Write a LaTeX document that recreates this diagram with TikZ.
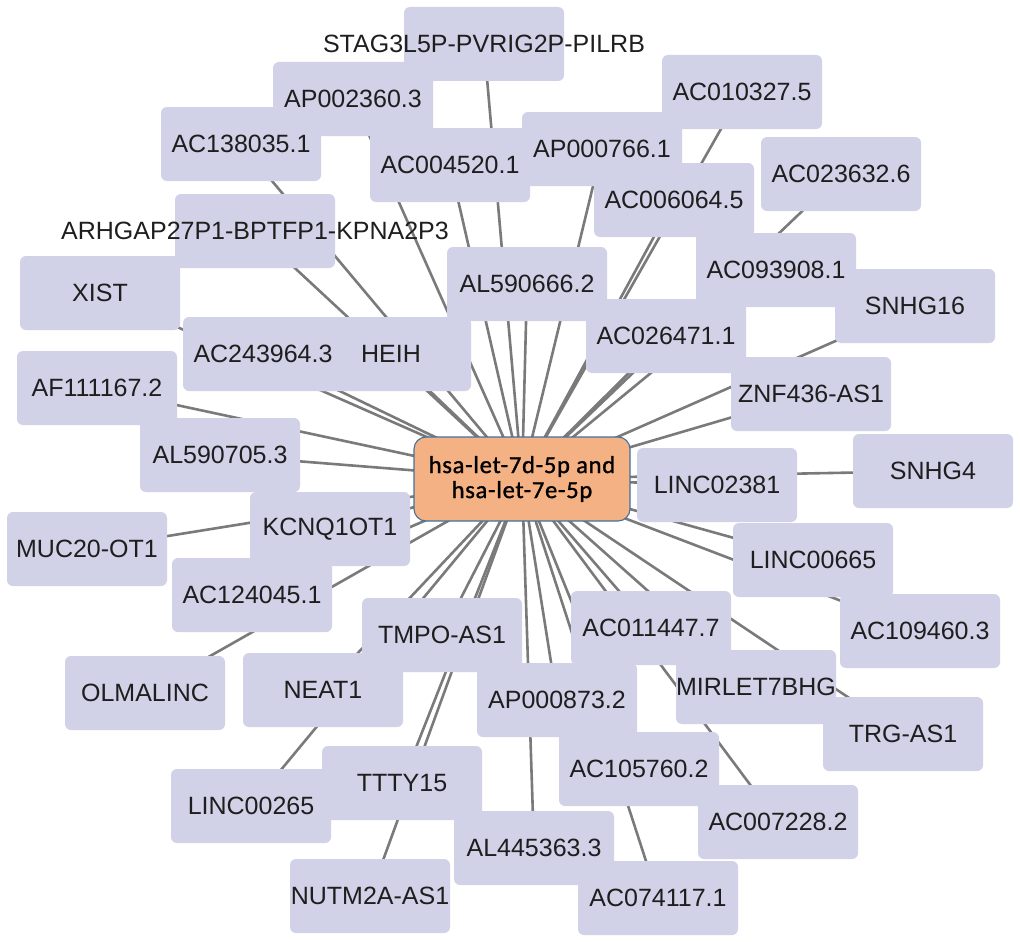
\documentclass[tikz,border=0pt]{standalone}
\usepackage{fontspec}
\setmainfont{Liberation Sans}
\newfontfamily\centerfont{Carlito}[LetterSpace=3,FakeBold=1.2]
\usetikzlibrary{backgrounds}
\definecolor{nodefill}{HTML}{D1D1E7}
\definecolor{centerfill}{HTML}{F4B183}
\definecolor{centerline}{HTML}{41719C}
\definecolor{edgecol}{HTML}{7A7A7A}
\definecolor{txt}{HTML}{1E1E1E}
\tikzset{
  gbox/.style={rectangle, rounded corners=6pt, fill=nodefill, draw=none,
    minimum width=160pt, minimum height=74pt, inner sep=0pt},
  glabel/.style={inner sep=0pt, text=txt, font=\fontsize{25}{28}\selectfont},
  hub/.style={rectangle, rounded corners=12pt, fill=centerfill, draw=centerline,
    line width=1.1pt, minimum width=216pt, minimum height=84pt, inner sep=0pt,
    align=center, text=black, font=\centerfont\fontsize{24.5}{25}\selectfont},
  edge/.style={draw=edgecol, line width=2.6pt}
}
\begin{document}
\begin{tikzpicture}[x=1pt,y=-1pt]
\useasboundingbox (0,0) rectangle (1020,942);
\def\genes{stag/484/44/STAG3L5P-PVRIG2P-PILRB,
ap002360/353/99/AP002360.3,
ac138035/241/144/AC138035.1,
ac004520/450/165/AC004520.1,
arhgap/255/231/ARHGAP27P1-BPTFP1-KPNA2P3,
xist/100/293/XIST,
ac010327/742/92/AC010327.5,
ap000766/602/149/AP000766.1,
ac006064/674/200/AC006064.5,
ac023632/841/174/AC023632.6,
ac093908/776/270/AC093908.1,
snhg16/915/306/SNHG16,
al590666/527/284/AL590666.2,
ac243964/263/354/AC243964.3,
heih/391/354/HEIH,
af111167/97/388/AF111167.2,
al590705/220/455/AL590705.3,
kcnq1ot1/330/529/KCNQ1OT1,
muc20/87/549/MUC20-OT1,
ac124045/252/595/AC124045.1,
ac026471/666/336/AC026471.1,
znf436/811/394/ZNF436-AS1,
snhg4/933/471/SNHG4,
linc02381/717/485/LINC02381,
linc00665/813/560/LINC00665,
ac109460/920/631/AC109460.3,
olmalinc/145/693/OLMALINC,
neat1/323/690/NEAT1,
tmpo/442/635/TMPO-AS1,
linc00265/251/806/LINC00265,
ttty15/402/783/TTTY15,
nutm2a/370/896/NUTM2A-AS1,
al445363/534/848/AL445363.3,
ac011447/651/628/AC011447.7,
ap000873/557/700/AP000873.2,
mirlet7bhg/756/687/MIRLET7BHG,
trgas1/903/734/TRG-AS1,
ac105760/639/769/AC105760.2,
ac007228/778/822/AC007228.2,
ac074117/658/898/AC074117.1}
% boxes
\foreach \n/\x/\y/\t in \genes {
  \node[gbox] (\n) at (\x,\y) {};
}
% hub
\node[hub] (hub) at (522,479) {hsa-let-7d-5p and\\hsa-let-7e-5p};
% edges behind everything
\begin{scope}[on background layer]
\foreach \n/\x/\y/\t in \genes {
  \draw[edge] (hub.center) -- (\n.center);
}
\end{scope}
% labels
\foreach \n/\x/\y/\t in \genes {
  \node[glabel] (\n-t) at (\n) {\t};
}
\end{tikzpicture}
\end{document}
